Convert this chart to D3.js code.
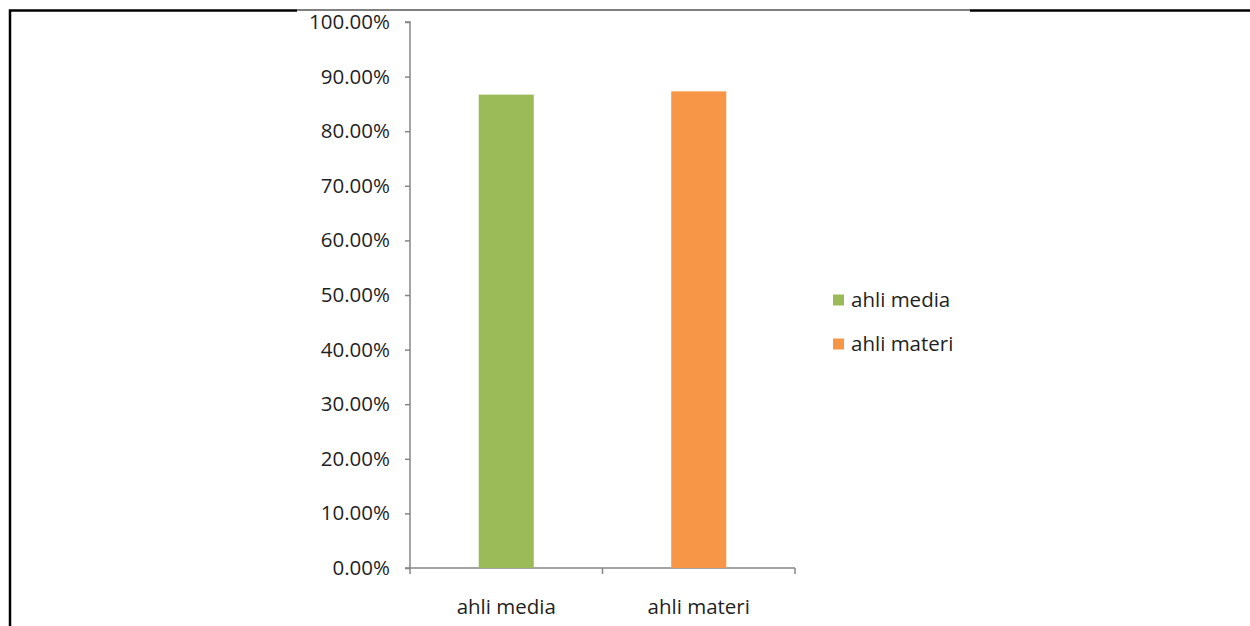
<!DOCTYPE html>
<html>
<head>
<meta charset="utf-8">
<script src="https://cdn.jsdelivr.net/npm/d3@7"></script>
<style>
  html, body { margin: 0; padding: 0; background: #fff; }
  svg { display: block; }
  text { font-family: "Open Sans", sans-serif; fill: #1f1f1f; font-weight: 500; }
</style>
</head>
<body>
<div id="chart"></div>
<script>
// chart values
const categories = ["ahli media", "ahli materi"];
const values = [0.867, 0.873];
const colors = ["#9BBB59", "#F79646"];
const yTicks = [0, 0.1, 0.2, 0.3, 0.4, 0.5, 0.6, 0.7, 0.8, 0.9, 1.0];

const width = 1250;
const height = 626;
const fontSize = 20.5;

const svg = d3.select("#chart")
    .append("svg")
    .attr("width", width)
    .attr("height", height);

// page frame (table border around the chart image)
svg.append("path")
    .attr("d", "M10,626 V10.5 H297")
    .attr("fill", "none")
    .attr("stroke", "#000")
    .attr("stroke-width", 2.5);
svg.append("line")
    .attr("x1", 297).attr("x2", 970)
    .attr("y1", 10).attr("y2", 10)
    .attr("stroke", "#000").attr("stroke-width", 1);
svg.append("line")
    .attr("x1", 970).attr("x2", 1250)
    .attr("y1", 10.5).attr("y2", 10.5)
    .attr("stroke", "#000").attr("stroke-width", 2.5);

const plot = { left: 410, right: 795, top: 22, bottom: 568 };

const x = d3.scaleBand()
    .domain(categories)
    .range([plot.left, plot.right])
    .paddingInner(0.714)
    .paddingOuter(0.357);

const y = d3.scaleLinear()
    .domain([0, 1])
    .range([plot.bottom, plot.top]);

const axisColor = "#868686";

// y axis
const yAxis = svg.append("g")
    .attr("transform", `translate(${plot.left},0)`)
    .call(d3.axisLeft(y)
        .tickValues(yTicks)
        .tickSize(5)
        .tickPadding(15)
        .tickFormat(d => (d * 100).toFixed(2) + "%"));
yAxis.select(".domain").attr("stroke", axisColor).attr("stroke-width", 1.5).attr("d", `M-5,${plot.top}H0V${plot.bottom}`);
yAxis.selectAll(".tick line").attr("stroke", axisColor).attr("stroke-width", 1.5);
yAxis.selectAll(".tick text")
    .attr("font-size", fontSize)
    .attr("font-family", "Open Sans")
    .attr("fill", "#1f1f1f");

// x axis
const xAxis = svg.append("g")
    .attr("transform", `translate(0,${plot.bottom})`);
xAxis.append("line")
    .attr("x1", plot.left - 5).attr("x2", plot.right)
    .attr("stroke", axisColor).attr("stroke-width", 1.5);
const bounds = [plot.left, (plot.left + plot.right) / 2, plot.right];
xAxis.selectAll("line.tk")
    .data(bounds)
    .join("line")
    .attr("class", "tk")
    .attr("x1", d => d).attr("x2", d => d)
    .attr("y1", 0).attr("y2", 6)
    .attr("stroke", axisColor).attr("stroke-width", 1.5);
xAxis.selectAll("text")
    .data(categories)
    .join("text")
    .attr("x", d => x(d) + x.bandwidth() / 2)
    .attr("y", 39)
    .attr("dy", "0.35em")
    .attr("text-anchor", "middle")
    .attr("font-size", fontSize)
    .text(d => d);

// bars
svg.selectAll("rect.bar")
    .data(categories)
    .join("rect")
    .attr("class", "bar")
    .attr("x", d => x(d))
    .attr("width", x.bandwidth())
    .attr("y", (d, i) => y(values[i]))
    .attr("height", (d, i) => y(0) - y(values[i]))
    .attr("fill", (d, i) => colors[i]);

// legend
const legend = svg.append("g")
    .attr("transform", "translate(833,300)");
const item = legend.selectAll("g")
    .data(categories)
    .join("g")
    .attr("transform", (d, i) => `translate(0,${i * 44})`);
item.append("rect")
    .attr("x", 0).attr("y", -5.5)
    .attr("width", 11).attr("height", 11)
    .attr("fill", (d, i) => colors[i]);
item.append("text")
    .attr("x", 18)
    .attr("y", 0)
    .attr("dy", "0.35em")
    .attr("font-size", fontSize)
    .text(d => d);
</script>
</body>
</html>
